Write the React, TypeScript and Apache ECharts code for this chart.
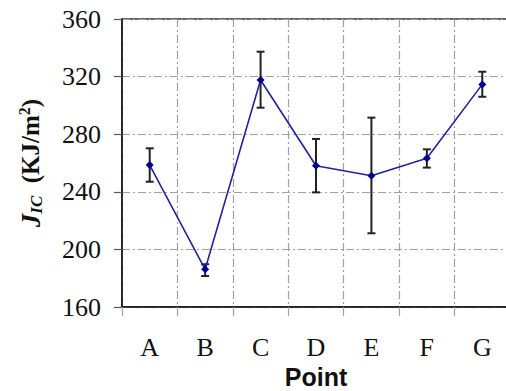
import React, { useEffect, useRef } from "react";
import * as echarts from "echarts";

const categories = ["A", "B", "C", "D", "E", "F", "G"];
const values = [258.6, 186.2, 317.6, 258.1, 251.2, 263.3, 314.6];
const errLow = [247, 181.5, 298.4, 239.6, 211.2, 256.8, 306];
const errHigh = [270.2, 189.7, 337.3, 276.7, 291.5, 269.5, 323.4];
const yTicks = [160, 200, 240, 280, 320, 360];

const SERIF = "'Liberation Serif', 'Times New Roman', serif";
const gridLine = { color: "#a0a0a0", width: 1.2, type: [8, 3, 2, 3] as number[] };

export default function App() {
  const ref = useRef<HTMLDivElement>(null);
  useEffect(() => {
    document.body.style.margin = "0";
    const chart = echarts.init(ref.current!, undefined, { renderer: "svg" });
    const errData = categories.map((c, i) => [i, errLow[i], errHigh[i]]);
    chart.setOption({
      animation: false,
      textStyle: { fontFamily: SERIF },
      grid: {
        left: 122, top: 19, width: 388, height: 288,
        outerBoundsMode: "none",
        containLabel: false,
        show: true, borderColor: "#333", borderWidth: 1.5, backgroundColor: "transparent",
      },
      xAxis: {
        type: "category",
        data: categories,
        boundaryGap: true,
        axisLine: { lineStyle: { color: "#111", width: 1.5 } },
        axisTick: { show: true, length: 9, lineStyle: { color: "#a0a0a0", width: 1.2 } },
        axisLabel: { fontFamily: SERIF, fontSize: 26, color: "#111", margin: 27 },
        splitLine: { show: true, lineStyle: gridLine },
        name: "Point",
        nameLocation: "middle",
        nameMoveOverlap: false,
        nameGap: 57,
        nameTextStyle: { fontFamily: "'Liberation Sans', Arial, sans-serif", fontWeight: "bold", fontSize: 25, lineHeight: 25, color: "#111" },
      },
      yAxis: {
        type: "value",
        min: yTicks[0],
        max: yTicks[yTicks.length - 1],
        interval: 40,
        axisLine: { show: true, lineStyle: { color: "#111", width: 1.5 } },
        axisTick: { show: true, length: 8, lineStyle: { color: "#555", width: 1.2 } },
        axisLabel: {
          formatter: "{v|{value}}",
          margin: 21,
          rich: { v: { fontFamily: SERIF, fontSize: 26, color: "#111" } },
        },
        splitLine: { show: true, lineStyle: gridLine },
        name: "{j|J}{sub|IC}{n|  (KJ/m}{sup|2}{n|)}",
        nameLocation: "middle",
        nameRotate: 90,
        nameMoveOverlap: false,
        nameGap: 77,
        nameTextStyle: {
          color: "#111",
          fontFamily: SERIF,
          rich: {
            j: { fontFamily: SERIF, fontWeight: "bold", fontStyle: "italic", fontSize: 27, color: "#111" },
            sub: { fontFamily: SERIF, fontWeight: "bold", fontStyle: "italic", fontSize: 17, color: "#111", padding: [12, 0, 0, 0] },
            n: { fontFamily: SERIF, fontWeight: "bold", fontSize: 25, color: "#111" },
            sup: { fontFamily: SERIF, fontWeight: "bold", fontSize: 16, color: "#111", padding: [0, 0, 13, 0] },
          },
        },
      },
      series: [
        {
          type: "custom",
          data: errData,
          z: 3,
          renderItem: (params: any, api: any) => {
            const x = api.value(0);
            const lo = api.coord([x, api.value(1)]);
            const hi = api.coord([x, api.value(2)]);
            const w = 4;
            const style = { stroke: "#222", lineWidth: 2 };
            return {
              type: "group",
              children: [
                { type: "line", shape: { x1: lo[0], y1: lo[1], x2: hi[0], y2: hi[1] }, style },
                { type: "line", shape: { x1: lo[0] - w, y1: lo[1], x2: lo[0] + w, y2: lo[1] }, style },
                { type: "line", shape: { x1: hi[0] - w, y1: hi[1], x2: hi[0] + w, y2: hi[1] }, style },
              ],
            };
          },
        },
        {
          type: "line",
          data: values,
          z: 4,
          symbol: "diamond",
          symbolSize: 8,
          lineStyle: { color: "#23239a", width: 1.6 },
          itemStyle: { color: "#00008b" },
        },
      ],
    });
    return () => chart.dispose();
  }, []);
  return <div ref={ref} style={{ width: 506, height: 391 }} />;
}
